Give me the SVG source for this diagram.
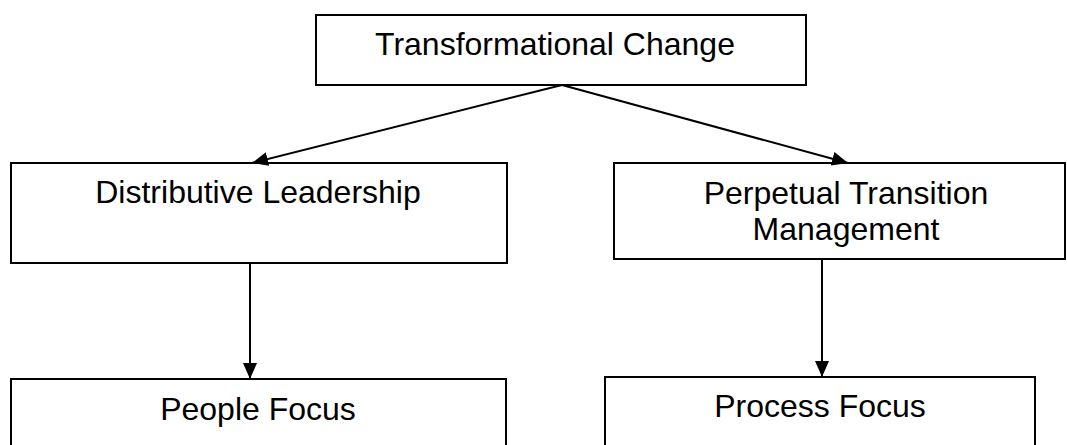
<svg xmlns="http://www.w3.org/2000/svg" width="1067" height="445" viewBox="0 0 1067 445">
  <style>
    .box { fill: #ffffff; stroke: #000000; stroke-width: 2; }
    .lbl { font-family: "Liberation Sans", Arial, sans-serif; font-size: 32px; fill: #000000; text-anchor: middle; }
    .link { stroke: #000000; stroke-width: 2; fill: none; marker-end: url(#head); }
  </style>
  <defs>
    <marker id="head" viewBox="0 0 16 14" refX="16" refY="7" markerWidth="16" markerHeight="14" markerUnits="userSpaceOnUse" orient="auto">
      <path d="M0,0 L16,7 L0,14 Z" fill="#000000"/>
    </marker>
  </defs>
  <rect width="1067" height="445" fill="#ffffff"/>

  <g id="transformational-change">
    <rect class="box" x="316" y="15" width="490" height="70"/>
    <text class="lbl" x="555" y="55">Transformational Change</text>
  </g>

  <g id="distributive-leadership">
    <rect class="box" x="11" y="163" width="496" height="100"/>
    <text class="lbl" x="258" y="203">Distributive Leadership</text>
  </g>

  <g id="perpetual-transition">
    <rect class="box" x="614" y="163" width="451" height="96"/>
    <text class="lbl" x="846" y="204">Perpetual Transition</text>
    <text class="lbl" x="846" y="240">Management</text>
  </g>

  <g id="people-focus">
    <rect class="box" x="11" y="379" width="495" height="80"/>
    <text class="lbl" x="258" y="420">People Focus</text>
  </g>

  <g id="process-focus">
    <rect class="box" x="605" y="377" width="430" height="80"/>
    <text class="lbl" x="820" y="417">Process Focus</text>
  </g>

  <g id="connectors">
    <line class="link" x1="562" y1="85" x2="252" y2="163"/>
    <line class="link" x1="562" y1="85" x2="848" y2="163"/>
    <line class="link" x1="250" y1="263" x2="250" y2="379"/>
    <line class="link" x1="822" y1="259" x2="822" y2="377"/>
  </g>
</svg>
